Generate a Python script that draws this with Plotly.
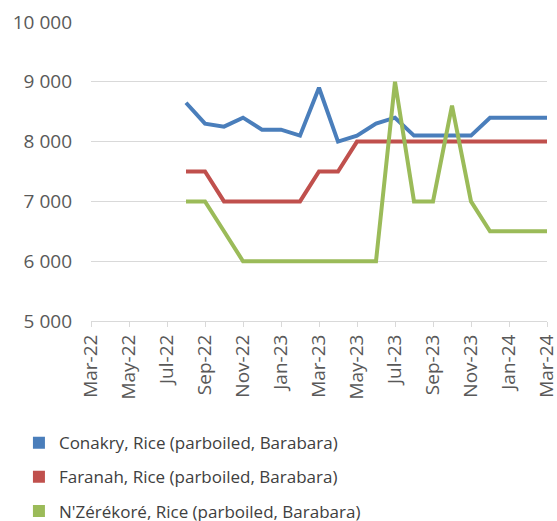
import plotly.graph_objects as go

months = ["Mar-22", "Apr-22", "May-22", "Jun-22", "Jul-22", "Aug-22", "Sep-22", "Oct-22",
          "Nov-22", "Dec-22", "Jan-23", "Feb-23", "Mar-23", "Apr-23", "May-23", "Jun-23",
          "Jul-23", "Aug-23", "Sep-23", "Oct-23", "Nov-23", "Dec-23", "Jan-24", "Feb-24", "Mar-24"]
tick_labels = months[::2]

data_months = months[5:]  # Aug-22 .. Mar-24
conakry = [8650, 8300, 8250, 8400, 8200, 8200, 8100, 8900, 8000, 8100, 8300, 8400,
           8100, 8100, 8100, 8100, 8400, 8400, 8400, 8400]
faranah = [7500, 7500, 7000, 7000, 7000, 7000, 7000, 7500, 7500, 8000, 8000, 8000,
           8000, 8000, 8000, 8000, 8000, 8000, 8000, 8000]
nzerekore = [7000, 7000, 6500, 6000, 6000, 6000, 6000, 6000, 6000, 6000, 6000, 9000,
             7000, 7000, 8600, 7000, 6500, 6500, 6500, 6500]

series = [
    ("Conakry, Rice (parboiled, Barabara)", conakry, "#4a7ebb"),
    ("Faranah, Rice (parboiled, Barabara)", faranah, "#c0504d"),
    ("N'Zérékoré, Rice (parboiled, Barabara)", nzerekore, "#9bbb59"),
]

font_family = "Open Sans"
grey = "#595959"

fig = go.Figure()
for i, (name, vals, color) in enumerate(series):
    fig.add_trace(go.Scatter(x=data_months, y=vals, mode="lines", name=name,
                             line=dict(color=color, width=4), showlegend=False,
                             legendgroup=f"g{i}"))
    fig.add_trace(go.Scatter(x=[None], y=[None], mode="markers", name=name,
                             marker=dict(symbol="square", size=12, color=color),
                             showlegend=True, legendgroup=f"g{i}"))

fig.update_layout(
    width=557, height=521,
    margin=dict(l=91, r=10, t=22, b=200, autoexpand=False),
    paper_bgcolor="white", plot_bgcolor="white",
    font=dict(family=font_family, color=grey),
    legend=dict(orientation="v", xref="container", yref="container",
                x=0.034, xanchor="left", y=0.184, yanchor="top",
                font=dict(size=17, color="#404040", family=font_family),
                tracegroupgap=9, bgcolor="rgba(0,0,0,0)"),
    xaxis=dict(type="category", categoryorder="array", categoryarray=months,
               range=[0, 24], tickmode="array", tickvals=tick_labels, ticktext=tick_labels,
               tickangle=-90, ticks="outside", ticklen=5, tickcolor="#d9d9d9",
               showline=True, linecolor="#d9d9d9", linewidth=1, showgrid=False,
               tickfont=dict(size=19, color=grey, family=font_family)),
    yaxis=dict(range=[5000, 10000], tickvals=[5000, 6000, 7000, 8000, 9000, 10000],
               ticktext=["5 000", "6 000", "7 000", "8 000", "9 000", "10 000"],
               showgrid=True, gridcolor="#d9d9d9", gridwidth=1, zeroline=False,
               ticks="", ticklabelstandoff=18,
               tickfont=dict(size=19, color=grey, family=font_family)),
)

fig.write_html("out.html", config={"displayModeBar": False},
               post_script="document.body.style.margin='0px';")
